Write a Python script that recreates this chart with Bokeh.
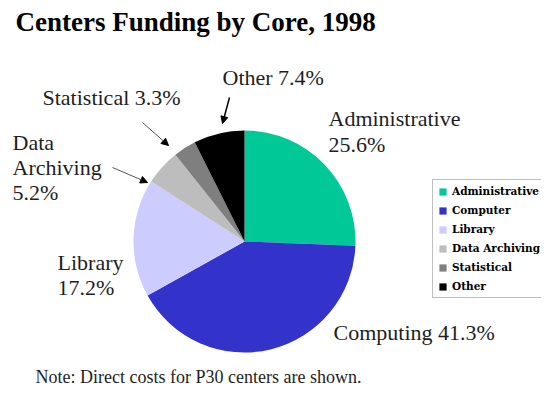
import numpy as np
from bokeh.plotting import figure
from bokeh.models import Range1d, ColumnDataSource, Legend, LegendItem, Arrow, NormalHead
from bokeh.core.properties import value
from bokeh.embed import file_html
from bokeh.resources import INLINE

# ---- data ----
categories = ["Administrative", "Computer", "Library", "Data Archiving", "Statistical", "Other"]
shares = [25.6, 41.3, 17.2, 5.2, 3.3, 7.4]
colors = ["#00C896", "#3333CC", "#CCCCFF", "#BDBDBD", "#7F7F7F", "#000000"]
label_lines = [
    ["Administrative", "25.6%"],
    ["Computing 41.3%"],
    ["Library", "17.2%"],
    ["Data", "Archiving", "5.2%"],
    ["Statistical 3.3%"],
    ["Other 7.4%"],
]
title_text = "Centers Funding by Core, 1998"
note_text = "Note: Direct costs for P30 centers are shown."

W, H = 541, 387
p = figure(width=W, height=H, x_range=Range1d(0, W), y_range=Range1d(0, H), title=None,
           min_border=0, toolbar_location=None, output_backend="svg")
p.axis.visible = False
p.grid.visible = False
p.outline_line_color = None
p.background_fill_color = "white"

# pie geometry (layout)
cx, cy, r = 244, 146, 111
vals = np.array(shares)
cum = np.concatenate([[0], np.cumsum(vals)]) / vals.sum()
start = np.pi / 2 - 2 * np.pi * cum[:-1]
end = np.pi / 2 - 2 * np.pi * cum[1:]
src = ColumnDataSource(dict(x=[cx] * len(vals), y=[cy] * len(vals), start=start, end=end,
                            color=colors, cat=categories))
wr = p.wedge(x="x", y="y", radius=r, start_angle="start", end_angle="end", direction="clock",
             fill_color="color", line_color=None, source=src)

# slice labels (layout positions: x, first line y, line step)
label_pos = [(328, 269, 26), (333, 55, 25), (57, 125, 25), (12, 245, 25), (42, 290, 25), (222, 310, 25)]
lx, ly, lt = [], [], []
for (x0, y0, step), lines in zip(label_pos, label_lines):
    for i, t in enumerate(lines):
        lx.append(x0)
        ly.append(y0 - step * i)
        lt.append(t)
p.text(x=lx, y=ly, text=lt, text_font=value("Liberation Serif"), text_font_size="22px",
       text_color="#1e1e1e", text_baseline="alphabetic", text_align="left")

# title & note
p.text(x=[15], y=[366], text=[title_text], text_font=value("Liberation Serif"),
       text_font_size="27px", text_font_style="bold", text_color="#000000",
       text_baseline="alphabetic")
p.text(x=[35], y=[11], text=[note_text], text_font=value("Liberation Serif"),
       text_font_size="18px", text_color="#1e1e1e", text_baseline="alphabetic")

# arrows
arrows = [((142, 265), (168, 242), "#555555", 1),
          ((112, 220), (147, 205), "#555555", 1),
          ((229, 290), (222, 264), "#000000", 1.5)]
for (x0, y0), (x1, y1), c, w in arrows:
    p.add_layout(Arrow(x_start=x0, y_start=y0, x_end=x1, y_end=y1, line_color=c, line_width=w,
                       end=NormalHead(size=7, fill_color="#000000", line_color="#000000")))

# legend
items = [LegendItem(label=c, renderers=[wr], index=i) for i, c in enumerate(categories)]
legend = Legend(items=items, location=(432, 89), orientation="vertical",
                label_text_font="DejaVu Serif", label_text_font_style="bold",
                label_text_font_size="10.5px", label_text_color="#000000",
                glyph_width=9, glyph_height=9, label_height=12, spacing=7, padding=5,
                label_standoff=5, margin=0,
                border_line_color="#808080", border_line_width=1,
                background_fill_color="white", background_fill_alpha=1)
p.add_layout(legend)

open("out.html", "w").write(file_html(p, INLINE))
